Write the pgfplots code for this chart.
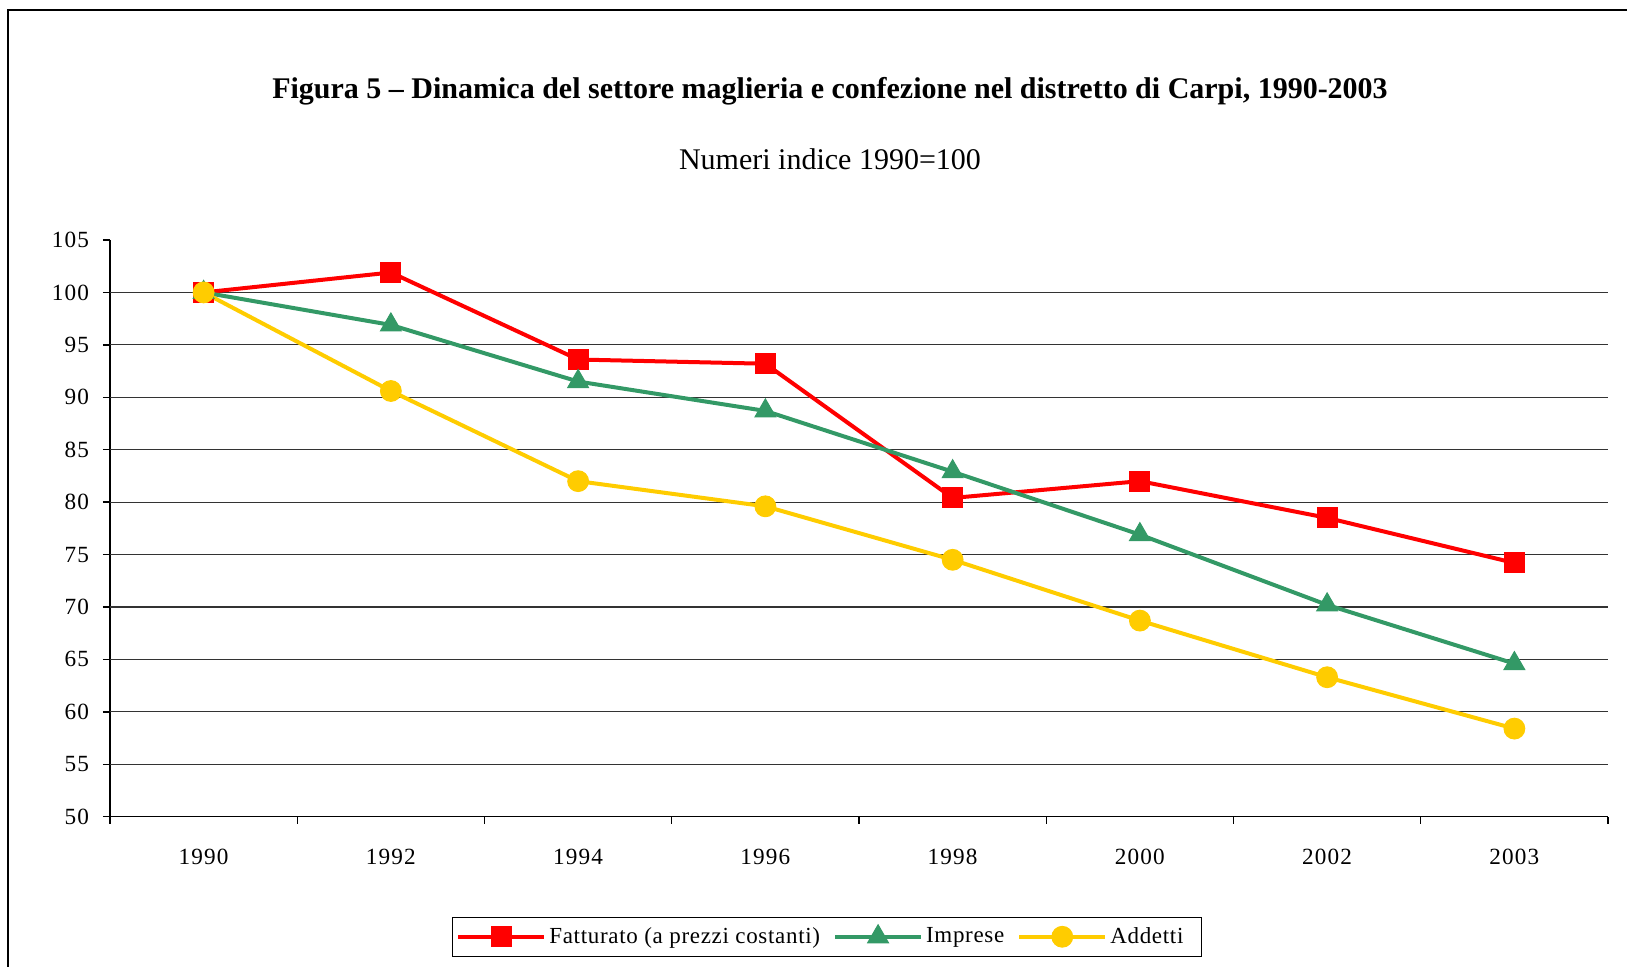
\documentclass[border=0pt]{standalone}
\usepackage{pgfplots}
\pgfplotsset{compat=1.18}
\usepackage{fontspec}
\setmainfont{Liberation Serif}
\newfontfamily\lblfont[LetterSpace=5]{Liberation Serif}
\newfontfamily\legfont[LetterSpace=3]{Liberation Serif}
\definecolor{cRed}{HTML}{FF0000}
\definecolor{cGreen}{HTML}{339966}
\definecolor{cYellow}{HTML}{FFCC00}

\pgfplotstableread{
x fatt impr add
0 100.0 100.0 100.0
1 101.9 96.9 90.6
2 93.6 91.5 82.0
3 93.2 88.7 79.6
4 80.4 82.9 74.5
5 82.0 76.9 68.7
6 78.5 70.2 63.3
7 74.2 64.6 58.4
}\datatable

\begin{document}
\begin{tikzpicture}
\useasboundingbox (0,0) rectangle (813.5pt,483.5pt);
\draw[line width=0.9pt] (4.15pt,-5pt) -- (4.15pt,478.5pt) -- (820pt,478.5pt);
\node[anchor=base,font=\fontsize{15}{18}\selectfont\bfseries] at (415pt,434pt)
  {Figura 5 -- Dinamica del settore maglieria e confezione nel distretto di Carpi, 1990-2003};
\node[anchor=base,font=\fontsize{15}{18}\selectfont] at (415pt,398.5pt) {Numeri indice 1990=100};
\begin{axis}[
  at={(55pt,75.15pt)}, anchor=south west,
  scale only axis, width=749pt, height=288.35pt,
  xmin=-0.5, xmax=7.5, ymin=50, ymax=105,
  axis x line*=bottom, axis y line*=left,
  axis line style={-, line width=0.7pt, black},
  tick align=outside,
  major tick length=3.5pt,
  tick style={black, line width=0.7pt},
  xtick={-0.5,0.5,1.5,2.5,3.5,4.5,5.5,6.5,7.5},
  xticklabels={},
  extra x ticks={0,1,2,3,4,5,6,7},
  extra x tick labels={1990,1992,1994,1996,1998,2000,2002,2003},
  extra x tick style={major tick length=0pt, xticklabel style={yshift=-12.6pt}},
  ytick={50,55,...,105},
  extra y ticks={55,60,...,100},
  extra y tick labels={},
  extra y tick style={ymajorgrids=true, major tick length=0pt},
  grid style={black!80, line width=0.6pt},
  /pgf/number format/assume math mode=true,
  ticklabel style={font=\lblfont\fontsize{11.6}{13}\selectfont},
  yticklabel style={xshift=-3.5pt},
  clip=false,
  legend columns=3,
  legend style={at={(0.2281,-0.1734)}, anchor=north west,
    draw=black, line width=0.6pt, inner xsep=2pt, inner ysep=3.5pt,
    font=\legfont\fontsize{11.5}{13}\selectfont,
    /tikz/every even column/.append style={column sep=5pt},
    nodes={inner sep=1.5pt}},
  legend image code/.code={\draw[mark repeat=2,mark phase=2] plot coordinates {(0pt,0pt)(21.5pt,0pt)(43pt,0pt)};},
]
\addplot[cRed, line width=2pt, mark=square*, mark size=5pt, mark options={solid, fill=cRed, draw=cRed, line width=0.5pt}] table[x=x,y=fatt]{\datatable};
\addlegendentry{Fatturato (a prezzi costanti)}
\addplot[cGreen, line width=2pt, mark=triangle*, mark size=6pt, mark options={solid, fill=cGreen, draw=cGreen, line width=0.5pt}] table[x=x,y=impr]{\datatable};
\addlegendentry{Imprese}
\addplot[cYellow, line width=2pt, mark=*, mark size=5.2pt, mark options={solid, fill=cYellow, draw=cYellow, line width=0.5pt}] table[x=x,y=add]{\datatable};
\addlegendentry{\makebox[42pt][l]{Addetti}}
\end{axis}
\end{tikzpicture}
\end{document}
